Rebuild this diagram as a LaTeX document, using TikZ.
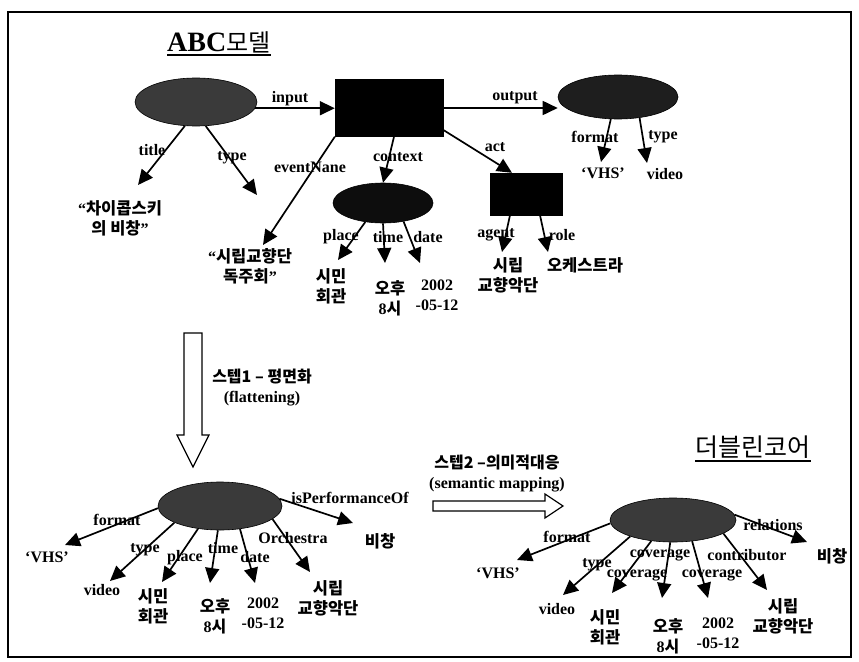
\documentclass[tikz,border=0pt]{standalone}
\usepackage{fontspec}
\setmainfont{Liberation Serif}
\newfontfamily\kr{Noto Sans CJK KR}
\usetikzlibrary{arrows.meta, shapes.geometric}
\definecolor{blobgray}{RGB}{58,58,58}
\definecolor{blobdark}{RGB}{30,30,30}
\tikzset{
  lbl/.style={font=\bfseries\fontsize{16}{20}\selectfont, inner sep=0pt},
  val/.style={font=\bfseries\fontsize{16}{20}\selectfont, inner sep=0pt, align=center, anchor=north},
  kval/.style={val, font=\kr\bfseries\fontsize{16.5}{20}\selectfont},
  arr/.style={-{Triangle[length=15pt,width=14pt]}, line width=1.7pt},
  blob/.style={ellipse, draw=black, line width=0.6pt, fill=blobgray, inner sep=0pt},
  blk/.style={rectangle, draw=black, fill=black, inner sep=0pt},
  hollow/.style={draw=black, line width=1.2pt, fill=white, line join=miter}
}

\begin{document}
\begin{tikzpicture}[x=1pt, y=-1pt]
  \useasboundingbox (0,0) rectangle (859,661);
  % 테두리
  \draw[line width=1.3pt] (8,12) rectangle (851,657);

  % ABC 모델 제목
  \node[inner sep=0pt, anchor=base west, font=\bfseries\fontsize{28}{30}\selectfont] (abct) at (167,52) {ABC{\kr\mdseries\fontsize{24}{30}\selectfont 모델}};
  \draw[line width=1.5pt] ([yshift=-3pt]abct.base west) -- ([yshift=-3pt]abct.base east);

  % ABC 모델의 노드
  \node[blob, minimum width=122pt, minimum height=48pt] (res) at (196,102) {};
  \node[blk, minimum width=108pt, minimum height=57pt] (evt) at (389,108) {};
  \node[blob, fill=blobdark, minimum width=120pt, minimum height=44pt] (out) at (618,97) {};
  \node[blk, minimum width=72pt, minimum height=42pt] (act) at (526,194) {};
  \node[blob, fill=black!95, minimum width=100pt, minimum height=40pt] (ctx) at (383,203) {};
  \coordinate (tyend) at (257,195);

  % 값
  \node[val] (ttlv) at (120,200) {“{\kr\fontsize{16.5}{20}\selectfont 차이콥스키}\\{\kr\fontsize{16.5}{20}\selectfont 의 비창}”};
  \node[val] (evv) at (250,248) {“{\kr\fontsize{16.5}{20}\selectfont 시립교향단}\\{\kr\fontsize{16.5}{20}\selectfont 독주회}”};
  \node[kval] (plv1) at (331,268) {시민\\회관};
  \node[val] (tmv1) at (390,280) {{\kr\fontsize{16.5}{20}\selectfont 오후}\\8{\kr 시}};
  \node[val] (dtv1) at (437,280) {2002\\-05-12};
  \node[val] (fmv1) at (603,168) {‘VHS’};
  \node[val] (tyv1) at (665,168) {video};
  \node[kval] (agv1) at (508,257) {시립\\교향악단};
  \node[kval] (rlv1) at (585,257) {오케스트라};

  % 속성 이름
  \node[lbl] (inl) at (290,99) {input};
  \node[lbl] (outl) at (515,98) {output};
  \node[lbl] (actl) at (495,147) {act};
  \node[lbl] (ttll) at (152,150) {title};
  \node[lbl] (tyl1) at (232,158) {type};
  \node[lbl] (evl) at (310,167) {eventNane};
  \node[lbl] (ctxl) at (398,157) {context};
  \node[lbl] (pll1) at (341,237) {place};
  \node[lbl] (tml1) at (388,237) {time};
  \node[lbl] (dtl1) at (428,237) {date};
  \node[lbl] (fml1) at (595,137) {format};
  \node[lbl] (tyl2) at (663,137) {type};
  \node[lbl] (agl) at (496,235) {agent};
  \node[lbl] (rll) at (562,235) {role};

  % 화살표
  \draw[arr] (res.-6) -- (res.-6 -| evt.west);
  \draw[arr] (evt.east) -- (evt.east -| out.west);
  \draw[arr] (res.-115) -- ([xshift=18pt,yshift=15pt]ttlv.north);
  \draw[arr] (res.-68) -- (tyend);
  \draw[arr] (evt.south west) -- ([xshift=13pt,yshift=3pt]evv.north);
  \draw[arr] ([xshift=5pt]evt.south) -- (ctx.north);
  \draw[arr] (evt.-22) -- ([xshift=-14pt]act.north);
  \draw[arr] (out.-108) -- ([xshift=-2pt,yshift=6pt]fmv1.north);
  \draw[arr] (out.-44) -- ([xshift=-18pt,yshift=5pt]tyv1.north);
  \draw[arr] ([xshift=-16pt]act.south) -- ([xshift=-6pt,yshift=5pt]agv1.north);
  \draw[arr] ([xshift=14pt]act.south) -- ([xshift=-37pt,yshift=5pt]rlv1.north);
  \draw[arr] (ctx.-133) -- ([xshift=7pt,yshift=8pt]plv1.north);
  \draw[arr] (ctx.south) -- ([xshift=-5pt,yshift=17pt]tmv1.north);
  \draw[arr] (ctx.-42) -- ([xshift=-17pt,yshift=17pt]dtv1.north);

  % 스텝 1
  \draw[hollow] (184,333) -- (202,333) -- (202,435) -- (209,435) -- (193,467) -- (177,435) -- (184,435) -- cycle;
  \node[lbl, align=center] (st1) at (262,388) {{\kr 스텝1 – 평면화}\\(flattening)};

  % 평면화된 노드
  \node[blob, minimum width=124pt, minimum height=48pt] (flat) at (220,506) {};
  \node[val] (fmv2) at (47,552) {‘VHS’};
  \node[val] (tyv2) at (102,584) {video};
  \node[kval] (plv2) at (153,588) {시민\\회관};
  \node[val] (tmv2) at (215,598) {{\kr\fontsize{16.5}{20}\selectfont 오후}\\8{\kr 시}};
  \node[val] (dtv2) at (263,598) {2002\\-05-12};
  \node[kval] (orv2) at (328,580) {시립\\교향악단};
  \node[kval] (pfv2) at (380,533) {비창};
  \node[lbl] (fml2) at (117,520) {format};
  \node[lbl] (tyl3) at (145,550) {type};
  \node[lbl] (pll2) at (185,558) {place};
  \node[lbl] (tml2) at (223,548) {time};
  \node[lbl] (dtl2) at (255,557) {date};
  \node[lbl] (orl2) at (293,538) {Orchestra};
  \node[lbl] (pfl2) at (350,498) {isPerformanceOf};
  \draw[arr] (flat.-178) -- ([xshift=18pt,yshift=7pt]fmv2.north);
  \draw[arr] (flat.-160) -- ([xshift=8pt,yshift=3pt]tyv2.north);
  \draw[arr] (flat.-134) -- ([xshift=9pt,yshift=6pt]plv2.north);
  \draw[arr] (flat.-95) -- ([xshift=-5pt,yshift=15pt]tmv2.north);
  \draw[arr] (flat.-49) -- ([xshift=-8pt,yshift=15pt]dtv2.north);
  \draw[arr] (flat.-14) -- ([xshift=-18pt,yshift=8pt]orv2.north);
  \draw[arr] (flat.7) -- ([xshift=-27pt,yshift=10pt]pfv2.north);

  % 스텝 2
  \draw[hollow] (433,501) -- (545,501) -- (545,494) -- (563,506) -- (545,518) -- (545,511) -- (433,511) -- cycle;
  \node[lbl, align=center] (st2) at (497,473) {{\kr 스텝2 –의미적대응}\\(semantic mapping)};

  % 더블린코어
  \node[inner sep=0pt, anchor=base, font=\kr\fontsize{25}{30}\selectfont] (dct) at (753,456) {더블린코어};
  \draw[line width=1.3pt] ([yshift=-5pt]dct.base west) -- ([yshift=-5pt]dct.base east);
  \node[blob, minimum width=126pt, minimum height=44pt] (dc) at (673,520) {};
  \node[val] (fmv3) at (498,568) {‘VHS’};
  \node[val] (tyv3) at (557,603) {video};
  \node[kval] (plv3) at (605,609) {시민\\회관};
  \node[val] (tmv3) at (668,618) {{\kr\fontsize{16.5}{20}\selectfont 오후}\\8{\kr 시}};
  \node[val] (dtv3) at (718,618) {2002\\-05-12};
  \node[kval] (orv3) at (783,598) {시립\\교향악단};
  \node[kval] (rlv3) at (832,548) {비창};
  \node[lbl] (fml3) at (567,537) {format};
  \node[lbl] (tyl4) at (597,565) {type};
  \node[lbl] (cvl1) at (660,555) {coverage};
  \node[lbl] (cnl) at (747,555) {contributor};
  \node[lbl] (cvl2) at (637,575) {coverage};
  \node[lbl] (cvl3) at (712,575) {coverage};
  \node[lbl] (rel) at (773,525) {relations};
  \draw[arr] (dc.-177) -- ([xshift=19pt,yshift=8pt]fmv3.north);
  \draw[arr] (dc.-159) -- ([xshift=6pt,yshift=8pt]tyv3.north);
  \draw[arr] (dc.-136) -- ([xshift=7pt,yshift=16pt]plv3.north);
  \draw[arr] (dc.-97) -- ([xshift=-6pt,yshift=20pt]tmv3.north);
  \draw[arr] (dc.-48) -- ([xshift=-10pt,yshift=20pt]dtv3.north);
  \draw[arr] (dc.-15) -- ([xshift=-16pt,yshift=8pt]orv3.north);
  \draw[arr] (dc.5) -- ([xshift=-25pt,yshift=6pt]rlv3.north);
\end{tikzpicture}
\end{document}
